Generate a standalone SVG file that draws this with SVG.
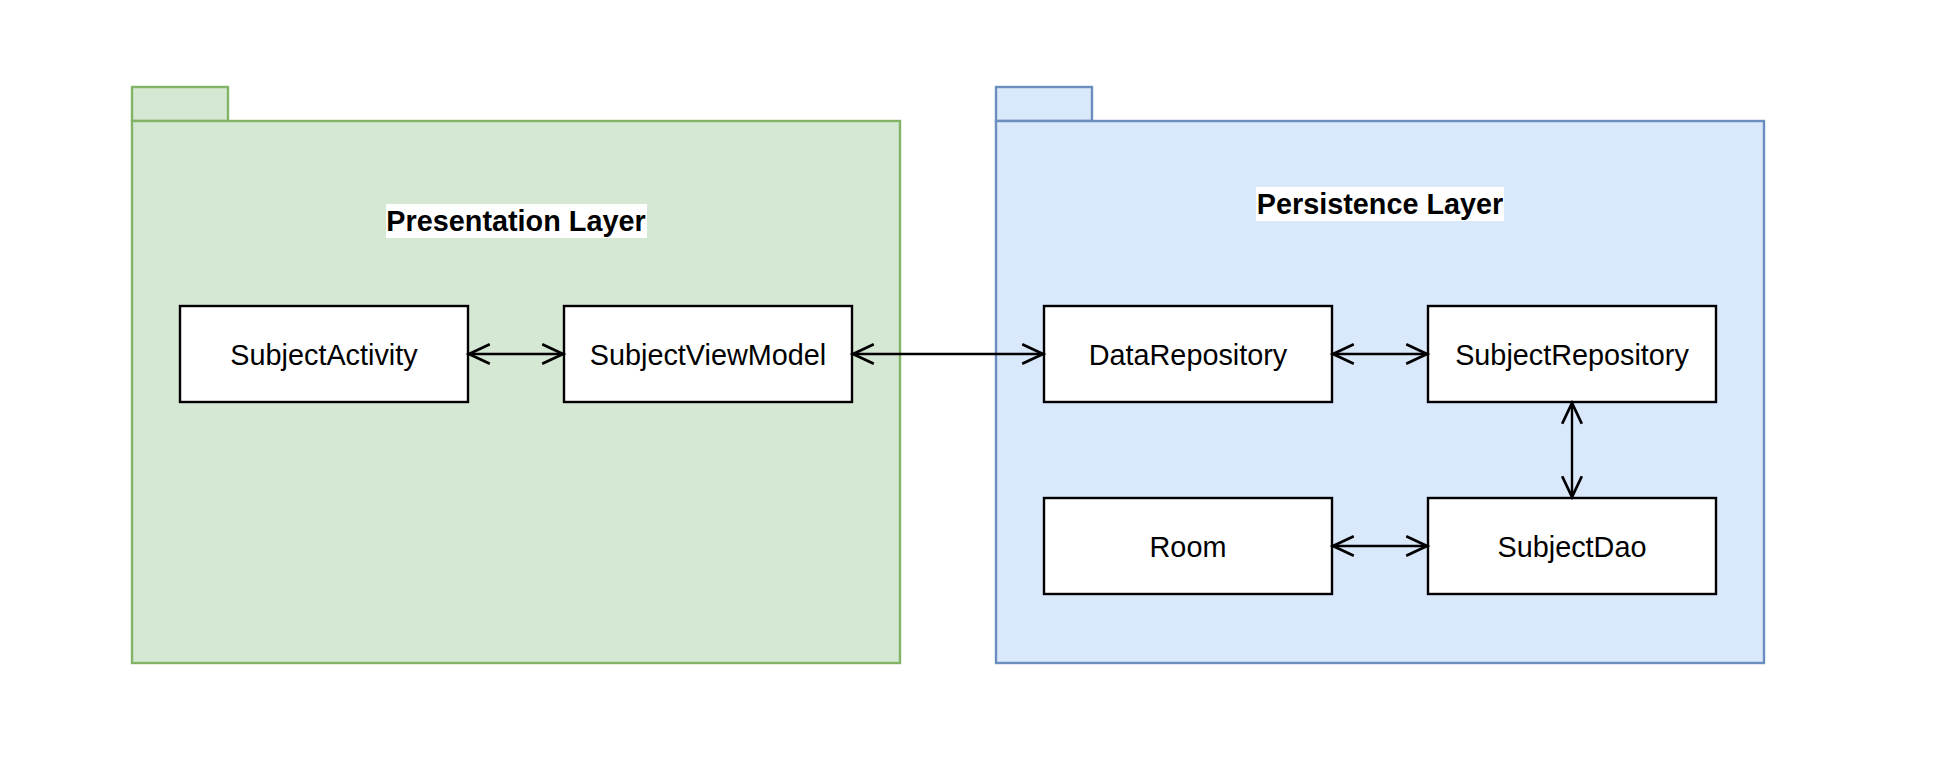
<svg xmlns="http://www.w3.org/2000/svg" width="1946" height="774" viewBox="0 0 1946 774">
<style>
.pkg-g{fill:#d5e8d4;stroke:#82b366;stroke-width:2.4}
.pkg-b{fill:#dae8fc;stroke:#6c8ebf;stroke-width:2.4}
.box{fill:#ffffff;stroke:#000000;stroke-width:2.4}
.lbl{font-family:"Liberation Sans",Arial,Helvetica,sans-serif;font-size:28.8px;fill:#000000;text-anchor:middle}
.title{font-family:"Liberation Sans",Arial,Helvetica,sans-serif;font-size:28.8px;font-weight:bold;fill:#000000;text-anchor:middle}
.conn{fill:none;stroke:#000000;stroke-width:2.4;marker-start:url(#open);marker-end:url(#open)}
</style>
<defs>
<marker id="open" markerUnits="userSpaceOnUse" markerWidth="30" markerHeight="30" viewBox="-22 -12 26 24" refX="0" refY="0" orient="auto-start-reverse" overflow="visible">
<path d="M -18 -8.5 L 0 0 L -18 8.5" fill="none" stroke="#000000" stroke-width="2.4"/>
</marker>
</defs>
<rect width="1946" height="774" fill="#ffffff"/>
<g transform="translate(0,1)">
<g id="presentation-layer">
<rect class="pkg-g" x="132" y="86" width="96" height="34"/>
<rect class="pkg-g" x="132" y="120" width="768" height="542"/>
<rect x="386" y="203" width="261" height="34" fill="#ffffff"/>
<text class="title" x="516" y="229.5">Presentation Layer</text>
</g>
<g id="persistence-layer">
<rect class="pkg-b" x="996" y="86" width="96" height="34"/>
<rect class="pkg-b" x="996" y="120" width="768" height="542"/>
<rect x="1256" y="186" width="248" height="34" fill="#ffffff"/>
<text class="title" x="1380" y="212.5">Persistence Layer</text>
</g>
<g id="subject-activity">
<rect class="box" x="180" y="305" width="288" height="96"/>
<text class="lbl" x="324" y="363.5">SubjectActivity</text>
</g>
<g id="subject-view-model">
<rect class="box" x="564" y="305" width="288" height="96"/>
<text class="lbl" x="708" y="363.5">SubjectViewModel</text>
</g>
<g id="data-repository">
<rect class="box" x="1044" y="305" width="288" height="96"/>
<text class="lbl" x="1188" y="363.5">DataRepository</text>
</g>
<g id="subject-repository">
<rect class="box" x="1428" y="305" width="288" height="96"/>
<text class="lbl" x="1572" y="363.5">SubjectRepository</text>
</g>
<g id="room">
<rect class="box" x="1044" y="497" width="288" height="96"/>
<text class="lbl" x="1188" y="555.5">Room</text>
</g>
<g id="subject-dao">
<rect class="box" x="1428" y="497" width="288" height="96"/>
<text class="lbl" x="1572" y="555.5">SubjectDao</text>
</g>
<g id="connectors">
<path class="conn" d="M 469 353 L 563 353"/>
<path class="conn" d="M 853 353 L 1043 353"/>
<path class="conn" d="M 1333 353 L 1427 353"/>
<path class="conn" d="M 1572 402 L 1572 496"/>
<path class="conn" d="M 1333 545 L 1427 545"/>
</g>
</g>
</svg>
